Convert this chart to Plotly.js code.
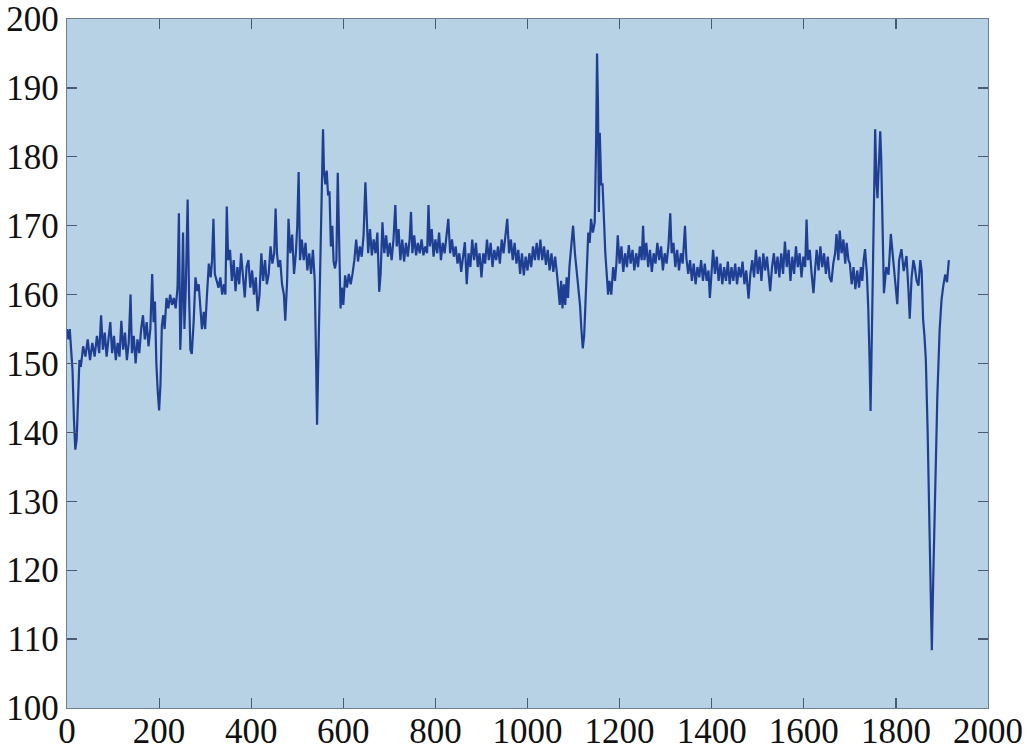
<!DOCTYPE html>
<html>
<head>
<meta charset="utf-8">
<script src="https://cdn.plot.ly/plotly-3.0.1.min.js"></script>
<style>html,body{margin:0;padding:0;background:#fff;}#chart{width:1027px;height:755px;}</style>
</head>
<body>
<div id="chart"></div>
<script>
const sampleX = [
0,3,6,9,12,15,18,21,24,27,30,35,40,45,50,55,60,65,70,74,78,82,86,90,94,98,102,106,110,114,118,122,126,130,134,138,141,145,149,153,157,161,165,169,173,177,181,185,188,191,194,197,200,203,206,209,212,216,220,224,228,232,236,240,243,246,249,252,255,258,262,265,268,271,275,279,283,286,289,293,297,300,304,308,312,315,318,321,325,329,333,337,341,344,347,350,354,358,362,366,370,374,378,382,386,390,394,398,402,406,410,414,418,422,426,430,434,438,442,446,450,453,456,459,463,467,471,474,478,481,485,489,493,497,500,503,506,510,514,518,522,526,530,534,538,541,543,545,548,551,554,556,558,561,564,567,570,573,576,579,582,585,588,591,594,597,600,604,608,612,616,620,624,628,632,636,640,644,648,651,654,658,662,666,670,674,678,681,685,689,693,697,701,705,709,713,716,720,724,728,732,736,740,744,747,750,754,758,762,766,770,774,778,782,785,788,792,796,800,804,808,812,816,820,824,828,832,836,840,844,848,852,856,860,864,868,872,876,880,884,888,892,896,900,904,908,912,916,920,924,928,932,936,940,944,948,952,956,960,964,968,972,976,980,984,988,992,996,1000,1004,1008,1012,1016,1020,1024,
1028,1032,1036,1040,1044,1048,1052,1056,1060,1064,1067,1070,1073,1076,1079,1082,1085,1088,1091,1095,1099,1103,1107,1110,1114,1117,1120,1123,1126,1129,1132,1135,1138,1142,1146,1149,1151,1153,1155,1157,1160,1163,1166,1169,1172,1175,1178,1182,1186,1190,1193,1196,1200,1204,1208,1212,1216,1220,1224,1228,1232,1236,1240,1244,1248,1251,1254,1258,1262,1266,1270,1274,1278,1282,1286,1290,1294,1298,1302,1306,1310,1313,1317,1321,1325,1329,1333,1337,1342,1345,1349,1353,1357,1361,1365,1369,1373,1377,1381,1385,1389,1393,1396,1400,1403,1407,1411,1415,1419,1423,1427,1431,1435,1439,1443,1447,1451,1455,1459,1463,1467,1471,1475,1480,1484,1488,1492,1496,1500,1504,1508,1512,1516,1520,1524,1527,1531,1535,1539,1543,1547,
1551,1555,1559,1563,1567,1571,1575,1579,1583,1587,1591,1595,1599,1603,1606,1609,1613,1617,1621,1625,1628,1632,1636,1640,1644,1648,1652,1656,1660,1664,1668,1671,1675,1678,1682,1686,1690,1693,1697,1700,1704,1708,1712,1716,1720,1724,1727,1730,1733,1737,1740,1743,1745,1748,1751,1753,1755,1758,1760,1763,1766,1768,1770,1772,1774,1779,1784,1789,1793,1798,1803,1807,1812,1817,1823,1827,1830,1834,1838,1841,1845,1849,1853,1856,1859,1862,1865,1869,1874,1878,1881,1886,1890,1895,1899,1903,1907,1911,1915
];
const sampleY = [
155,153.5,155,152,149,142,137.5,139,146,150.5,149.5,152.5,151,153.5,150.5,153,151,154,151.5,157,152,154.5,151,153.5,156,151.5,154,150.5,153,151,156.2,152,154.5,150.5,153,160,151.5,154,150,153.5,151.5,155,157,153.5,156,152.5,155,163,156,159,150,146,143.2,147,155.5,157,155,159.5,158,160,158.5,159.5,158,161,171.8,152,158,169,155,161,173.8,160,152,151.4,156,162.5,160.5,161.5,158.5,155,157.5,155,160,164.5,162.5,165,171,163,162,161,162.5,160,161.5,160,172.8,165,166.5,162,165,160.5,164,161.5,166,162,159.6,164,165,161,163.5,160,162.5,157.6,160,166,162,165,161.5,163,167,164.5,166,172.5,166,164,165,161.5,160,156.2,162,171,166,168.7,163,166,170,177.8,165,168,165,167.5,163.5,166,163,166.5,162,150,141.1,148,158,170,180,184,178,176,178,174.4,175,167,170,164.8,163.8,165,177.7,168,158,161,158.5,162.8,161,163,161.5,163,165,168,164.8,167,165.5,168.6,176.3,171,166,169.5,165.7,168,166,169,160.4,163,170.5,166,168.6,165.5,167.5,165,168,173,167,169.5,165,168,164.8,167.5,165.5,168,172,166,168.6,165.7,167.5,166,168,165.7,167,166,173,167,169.5,165.5,168,166,169,165,167.5,166,168.5,171,166,168,165.5,167,164.5,166,163.3,165.5,167.6,161.5,166,164,168,165,167.5,164,166,162.5,166,164.5,168,165,167.5,164,166.5,165,167,164.5,168,166,168.5,171,166,168,165,167.5,164.5,166.5,163,166,162.8,165.5,163.5,166,164,167,165,167.5,165,
168,165,167,164.3,166.5,163.5,166,163.3,165.5,163,161,158.5,162,158,161.5,158.5,162.5,159.5,164,167,170,166,163,161,158.5,155,152.2,154,160,165,169,167.5,171,169,170.5,182,195,188,172,183.5,176,176,170,166,163,160,162,160,164,162,164.5,168.6,164.5,167,163.3,166,164,167.2,164.5,166.5,163.5,166,164,167,165,170,165,167.5,164,166.5,163.3,166,164.5,167.5,165,167,163.5,166,164.5,167,171.8,166,167.5,164,166.5,163.5,166,164.5,170,165.3,163,165,162,164.5,161.5,164,162.5,165,162,164.5,162,163.5,159.5,163,166.5,163,165.5,162,164.5,161.5,164,162,164.8,161.5,164,162,164.5,161.5,164,162.5,164.8,161.5,163.5,159.4,163,165,162.5,166.5,163,165.5,162,166,163.5,165.5,162.5,160.5,164,166,163,165.5,162.5,
166,163,167.7,164,166.5,162,165.5,163,167,164,166,162.5,165.5,164,170.9,165,166.5,163,160.2,164,166.5,163.5,167,164,166,163,165.5,162.5,161.8,164.5,166,168.8,165,169.3,166,168,164.5,167.5,165,164.5,161.5,164,160.8,163.5,161,164,162,165,166.6,163,158,150,143.1,155,171,180,184,176,174,179,183.7,180,172,165,160.2,164,162.9,168.8,165.6,161.8,158.6,165,166.6,163.4,165.6,161,156.5,162.4,165,164,162,161.3,165,163.4,156.5,154,150.6,139.9,123.9,108.4,118.5,134.6,145.3,154.9,159.2,161.3,162.9,161.8,165
];
const xTicks = [0,200,400,600,800,1000,1200,1400,1600,1800,2000];
const yTicks = [100,110,120,130,140,150,160,170,180,190,200];

const trace = {
  x: sampleX, y: sampleY, type: 'scatter', mode: 'lines',
  line: {color: '#1f3f95', width: 2.2}, hoverinfo: 'skip'
};
const axisCommon = {
  showgrid: false, zeroline: false, showline: true, linecolor: '#6f7f93', linewidth: 1.2,
  mirror: 'ticks', ticks: 'inside', ticklen: 10, tickwidth: 1.2, tickcolor: '#4a5a70',
  ticklabeloverflow: 'allow',
  tickfont: {family: '"Liberation Serif", "Times New Roman", serif', size: 35, color: '#111'}
};
const layout = {
  width: 1027, height: 755,
  margin: {l: 67, r: 39, t: 19, b: 47, pad: 0},
  paper_bgcolor: '#ffffff', plot_bgcolor: '#b7d1e5',
  showlegend: false,
  xaxis: Object.assign({}, axisCommon, {range: [0, 2000], tickmode: 'array', tickvals: xTicks, ticktext: xTicks.map(String), ticklabelstandoff: -8}),
  yaxis: Object.assign({}, axisCommon, {range: [100, 200], tickmode: 'array', tickvals: yTicks, ticktext: yTicks.map(String)})
};
Plotly.newPlot('chart', [trace], layout, {staticPlot: true, displayModeBar: false});
</script>
</body>
</html>
